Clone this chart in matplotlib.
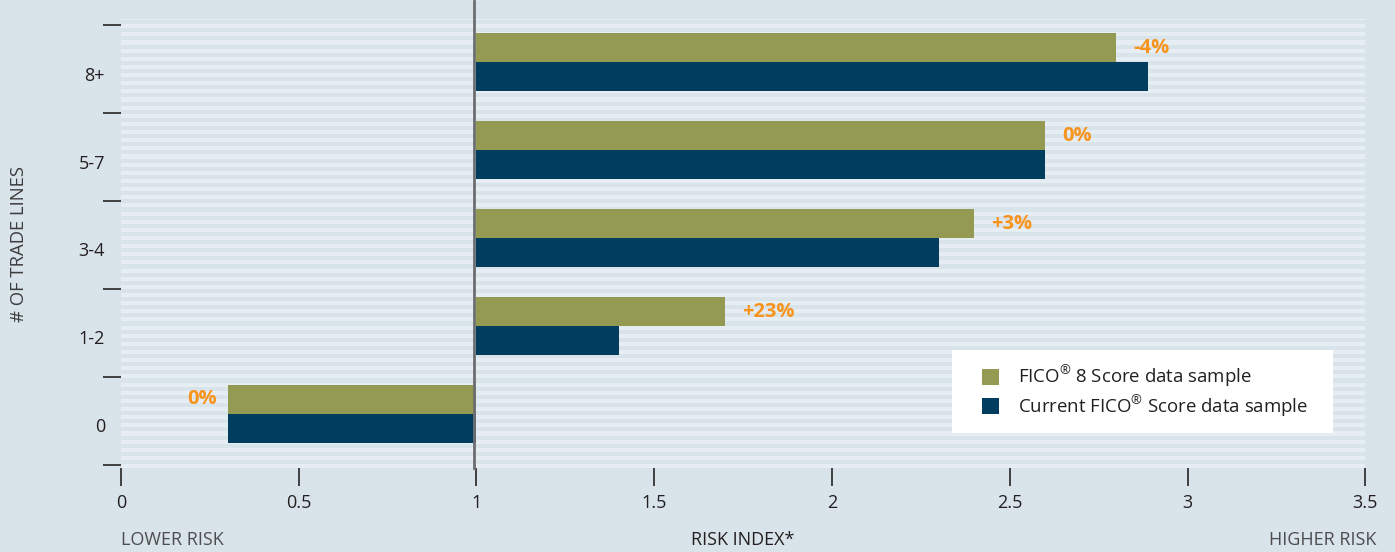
import numpy as np
import matplotlib
matplotlib.use("Agg")
import matplotlib.pyplot as plt
from matplotlib.patches import Rectangle
from matplotlib.ticker import FixedLocator

plt.rcParams['font.family'] = ['Open Sans', 'DejaVu Sans']
plt.rcParams['mathtext.fontset'] = 'custom'
plt.rcParams['mathtext.rm'] = 'Open Sans'

# data, bottom category first
categories = ["0", "1-2", "3-4", "5-7", "8+"]
fico8 = [0.30, 1.70, 2.40, 2.60, 2.80]
current = [0.30, 1.40, 2.30, 2.60, 2.89]
changes = ["0%", "+23%", "+3%", "0%", "-4%"]
x_ticks = [0, 0.5, 1, 1.5, 2, 2.5, 3, 3.5]
x_tick_labels = ["0", "0.5", "1", "1.5", "2", "2.5", "3", "3.5"]

OLIVE = "#949a51"
NAVY = "#003d5e"
ORANGE = "#f7941d"
BG = "#d9e3ea"
STRIPE = "#e7eef3"
DARK = "#231f20"
FS = 13

fig = plt.figure(figsize=(13.95, 5.52), dpi=100, facecolor=BG)
ax = fig.add_axes([0.0867, 0.152, 0.892, 0.8136])
ax.set_facecolor(BG)
ax.set_xlim(0, 3.5)
ax.set_ylim(-0.035, 5.07)

# striped background
period = 5.0 / 54
y = -0.035
while y < 5.07:
    ax.axhspan(y, y + period * 0.5, color=STRIPE, lw=0, zorder=0)
    y += period

bh = 0.33
ypos = np.arange(len(categories))
ax.barh(ypos + 0.58 + bh / 2, np.array(fico8) - 1, left=1, height=bh,
        color=OLIVE, zorder=2, label=r"FICO$^{\mathrm{®}}$ 8 Score data sample")
ax.barh(ypos + 0.58 - bh / 2, np.array(current) - 1, left=1, height=bh,
        color=NAVY, zorder=2, label=r"Current FICO$^{\mathrm{®}}$ Score data sample")

# change labels
for yi, v, txt in zip(ypos, fico8, changes):
    if v >= 1:
        ax.annotate(txt, (v, yi + 0.58 + bh / 2), xytext=(17, 0), textcoords="offset pixels",
                    ha="left", va="center", color=ORANGE, fontsize=14.5, fontweight="bold")
    else:
        ax.annotate(txt, (v, yi + 0.58 + bh / 2), xytext=(-11, 0), textcoords="offset pixels",
                    ha="right", va="center", color=ORANGE, fontsize=14.5, fontweight="bold")

# reference line at 1
ax.plot([0.992, 0.992], [-0.035, 5.27], color="#6d6e71", lw=2, zorder=3, clip_on=False)

for s in ax.spines.values():
    s.set_visible(False)

ax.set_xticks(x_ticks)
ax.set_xticklabels(x_tick_labels)
ax.tick_params(axis="x", length=13, width=1.3, color="#333333", pad=6,
               labelsize=FS, labelcolor=DARK)

ax.yaxis.set_major_locator(FixedLocator(np.arange(len(categories) + 1)))
ax.set_yticklabels([])
ax.yaxis.set_minor_locator(FixedLocator(ypos + 0.45))
ax.set_yticklabels(categories, minor=True)
ax.tick_params(axis="y", which="major", length=13, width=1.3, color="#333333")
ax.tick_params(axis="y", which="minor", length=0, pad=11.5, labelsize=FS, labelcolor=DARK)

ax.set_ylabel("# OF TRADE LINES", fontsize=13.3, color="#3d3d3d", labelpad=0)
ax.yaxis.set_label_coords(-0.0745, 0.5)

fig.text(121 / 1395, 1 - 540 / 552, "LOWER RISK", ha="left", va="center",
         fontsize=FS, color="#4d4d4f")
fig.text(743 / 1395, 1 - 540 / 552, "RISK INDEX*", ha="center", va="center",
         fontsize=FS, color=DARK)
fig.text(1376 / 1395, 1 - 540 / 552, "HIGHER RISK", ha="right", va="center",
         fontsize=FS, color="#4d4d4f")

# white legend panel, then legend on top without its own frame
ax.add_patch(Rectangle((0.6675, 0.078), 0.3068, 0.185, transform=ax.transAxes,
                       facecolor="white", edgecolor="none", zorder=4))
leg = ax.legend(loc="center left", bbox_to_anchor=(0.6916, 0.1715), borderaxespad=0,
                frameon=False, fontsize=13.4, handlelength=0.95, handleheight=0.95,
                borderpad=0, labelspacing=0.2, handletextpad=1.0)
leg.set_zorder(5)
for t in leg.get_texts():
    t.set_color(DARK)

fig.savefig("out.png", dpi=100, facecolor=BG)
